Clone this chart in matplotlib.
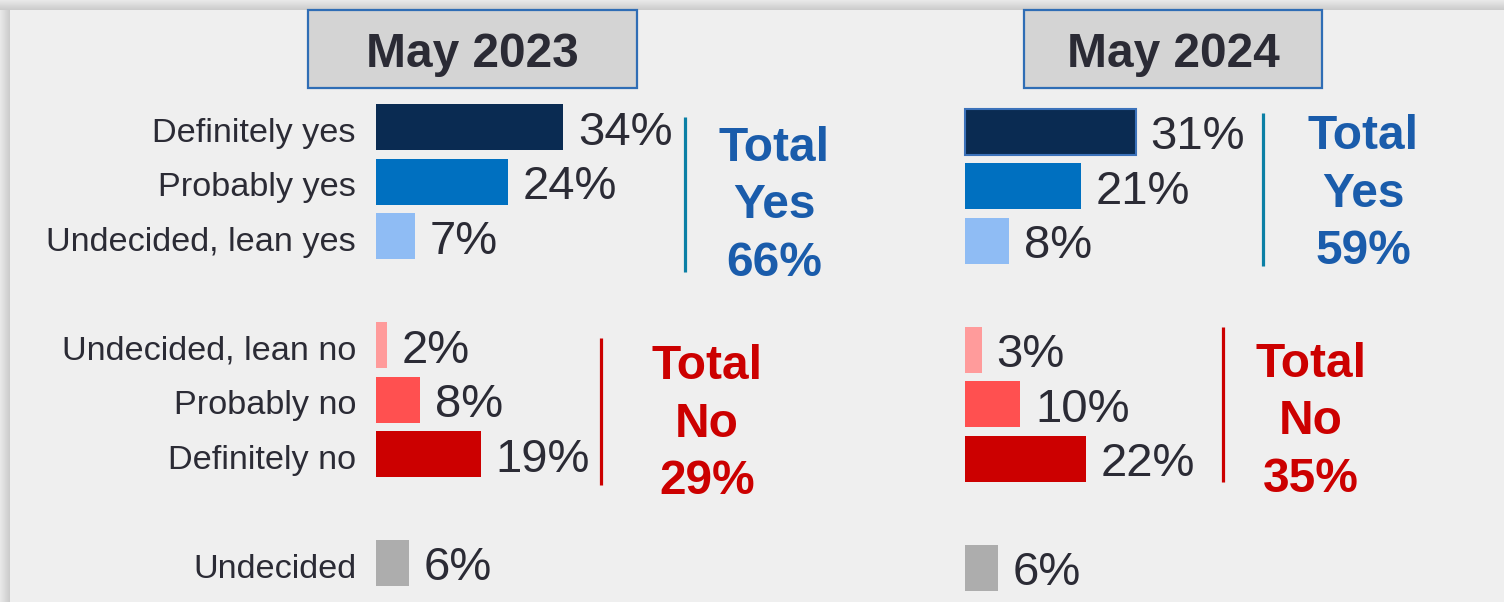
import numpy as np
import matplotlib
matplotlib.use("Agg")
import matplotlib.pyplot as plt
from matplotlib.patches import Rectangle

plt.rcParams['font.family'] = ['Liberation Sans', 'DejaVu Sans']

# data
categories = ["Definitely yes", "Probably yes", "Undecided, lean yes",
              "Undecided, lean no", "Probably no", "Definitely no", "Undecided"]
row_pos = [0, 1, 2, 4, 5, 6, 8]
periods = ["May 2023", "May 2024"]
values_2023 = [34, 24, 7, 2, 8, 19, 6]
values_2024 = [31, 21, 8, 3, 10, 22, 6]
total_yes = [66, 59]
total_no = [29, 35]
bar_colors = ["#0a2b52", "#0070c0", "#8fbcf4",
              "#ff9b9b", "#ff5050", "#cc0000", "#adadad"]

W, H = 1504, 602
PX_PER_PCT = 5.5
ROW_PX = 54.5
TXT = "#2b2b35"
BLUE = "#1a5cab"
RED = "#cc0000"
TEAL = "#0b7fa5"

fig = plt.figure(figsize=(W / 100, H / 100), dpi=100)
fig.patch.set_facecolor("#efefef")

# overlay in pixel units for frame, headers and totals
bg = fig.add_axes([0, 0, 1, 1])
bg.set_xlim(0, W)
bg.set_ylim(H, 0)
bg.axis("off")

# frame shadow on top and left edges
shades = np.linspace(0.91, 0.80, 10)
for i, g in enumerate(shades):
    bg.add_patch(Rectangle((0, i), W, 1, color=str(g), lw=0))
    bg.add_patch(Rectangle((i, i), 1, H - i, color=str(g), lw=0))

# header boxes
headers = [(308, 329, 472.5), (1024, 298, 1173)]
for (x, w, cx), label in zip(headers, periods):
    bg.add_patch(Rectangle((x, 10), w, 78, facecolor="#d4d4d4",
                           edgecolor="#2f6db5", lw=1.6))
    bg.text(cx, 67, label, fontsize=34.5, fontweight="bold", color=TXT,
            ha="center", va="baseline")

# total blocks: (center x, baselines, line x, line y0, line y1)
yes_layout = [(774, [161, 218, 276], 685, 117, 272),
              (1363, [149, 207, 264], 1263, 113, 266)]
no_layout = [(707, [379, 437, 494], 601, 338, 485),
             (1311, [377, 434, 492], 1223, 327, 482)]

for (cx, bls, lx, y0, y1), tot in zip(yes_layout, total_yes):
    bg.plot([lx, lx], [y0, y1], color=TEAL, lw=2.3, solid_capstyle="butt")
    for txt, b in zip(["Total", "Yes", f"{tot}%"], bls):
        bg.text(cx, b, txt, fontsize=34.5, fontweight="bold", color=BLUE,
                ha="center", va="baseline")

for (cx, bls, lx, y0, y1), tot in zip(no_layout, total_no):
    bg.plot([lx, lx], [y0, y1], color=RED, lw=2.3, solid_capstyle="butt")
    for txt, b in zip(["Total", "No", f"{tot}%"], bls):
        bg.text(cx, b, txt, fontsize=34.5, fontweight="bold", color=RED,
                ha="center", va="baseline")

# bar panels: (bar origin px, first row center px)
panels = [(376, 127.0, values_2023, True), (965, 131.5, values_2024, False)]
for x0, y0, vals, show_labels in panels:
    ax = fig.add_axes([0, 0, 1, 1])
    ax.patch.set_alpha(0)
    ax.set_xlim(-x0 / PX_PER_PCT, (W - x0) / PX_PER_PCT)
    ax.set_ylim((H - y0) / ROW_PX, -y0 / ROW_PX)
    ax.axis("off")
    bars = ax.barh(row_pos, vals, height=46 / ROW_PX, color=bar_colors, lw=0)
    if not show_labels:
        bars[0].set_edgecolor("#3c72ba")
        bars[0].set_linewidth(1.5)
    for p, v in zip(row_pos, vals):
        ax.text(v + 15 / PX_PER_PCT, p + 17.5 / ROW_PX, f"{v}%", fontsize=34,
                color=TXT, ha="left", va="baseline")
    if show_labels:
        for p, c in zip(row_pos, categories):
            ax.text(-20 / PX_PER_PCT, p + 14.5 / ROW_PX, c, fontsize=24.7,
                    color=TXT, ha="right", va="baseline")

fig.savefig("out.png", dpi=100, facecolor=fig.get_facecolor())
